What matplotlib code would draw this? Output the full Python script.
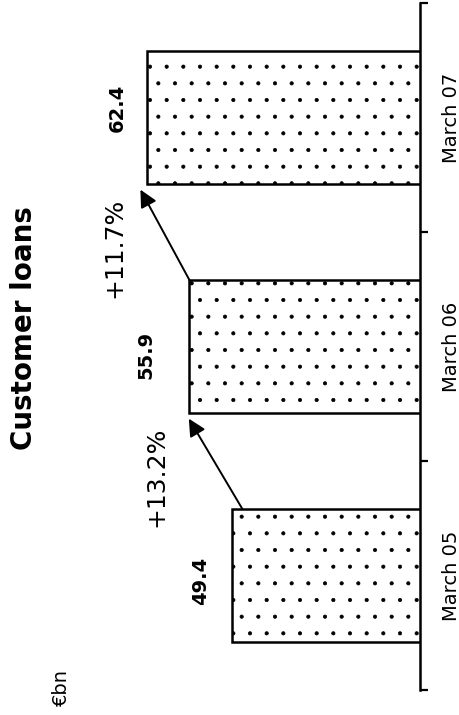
import numpy as np
import matplotlib
matplotlib.use('Agg')
import matplotlib.pyplot as plt

# ----------------------------------------------------------------
# Data (EUR bn)
# ----------------------------------------------------------------
periods = ['March 05', 'March 06', 'March 07']
loans = [49.4, 55.9, 62.4]
growth = ['+13.2%', '+11.7%']

# ----------------------------------------------------------------
# Layout (figure is drawn turned on its side, text reads upward)
# ----------------------------------------------------------------
W, H = 460, 715
DPI = 100
px = 72.0 / DPI          # one pixel in points

v_base = 20.65           # value sitting on the baseline
px_per_unit = 6.54
ax_left, ax_right = 40, 420
ax_top, ax_bot = 3, 690
bar_w = 0.58

plt.rcParams['font.family'] = ['DejaVu Sans']
plt.rcParams['hatch.linewidth'] = 0.5

fig = plt.figure(figsize=(W / DPI, H / DPI), dpi=DPI)
ax = fig.add_axes([ax_left / W, 1 - ax_bot / H,
                   (ax_right - ax_left) / W, (ax_bot - ax_top) / H])

pos = np.arange(len(periods))
ax.barh(pos, loans, height=bar_w, color='white', edgecolor='black',
        linewidth=1.8, hatch='.', zorder=2)

ax.set_xlim(v_base + (ax_right - ax_left) / px_per_unit, v_base)
ax.set_ylim(-0.5, len(periods) - 0.5)

for s in ['left', 'top', 'bottom']:
    ax.spines[s].set_visible(False)
ax.spines['right'].set_linewidth(1.8)
ax.spines['right'].set_zorder(3)

ax.set_xticks([])
ax.yaxis.tick_right()
ax.set_yticks(np.arange(-0.5, len(periods), 1.0))
ax.set_yticklabels([])
ax.tick_params(axis='y', which='major', direction='out', length=6, width=1.6)
ax.set_yticks(pos, minor=True)
ax.set_yticklabels(periods, minor=True, rotation=90, va='center',
                   fontsize=14)
ax.tick_params(axis='y', which='minor', length=0, pad=15.5)

# value labels, pushed out past the bar end
label_pad = [31, 44, 30]
label_dy = [-5, -8, 10]
for p, v, d, dy in zip(pos, loans, label_pad, label_dy):
    ax.annotate(f'{v:.1f}', (v, p), xytext=(-d * px, dy * px),
                textcoords='offset points', rotation=90,
                ha='center', va='center', fontsize=14, fontweight='bold')

# growth arrows from one bar to the next
start_shift = [-1.6, 0.0]
end_shift = [0.1, 1.0]
for i, g in enumerate(growth):
    x0 = loans[i] + start_shift[i]
    y0 = pos[i] + bar_w / 2
    x1 = loans[i + 1] + end_shift[i]
    y1 = pos[i + 1] - bar_w / 2 - 0.025
    ax.annotate('', xy=(x1, y1), xytext=(x0, y0),
                arrowprops=dict(arrowstyle='-|>', color='black', lw=1.4,
                                mutation_scale=26, shrinkA=0, shrinkB=0))
    ax.annotate(g, (loans[i + 1], pos[i] + 0.43), xytext=(-33 * px, 0),
                textcoords='offset points', rotation=90,
                ha='center', va='center', fontsize=18)

fig.text(24 / W, 1 - 328 / H, 'Customer loans', rotation=90,
         ha='center', va='center', fontsize=20, fontweight='bold')
fig.text(61 / W, 1 - 688 / H, '€bn', rotation=90,
         ha='center', va='center', fontsize=14)

fig.savefig('out.png', dpi=DPI)
